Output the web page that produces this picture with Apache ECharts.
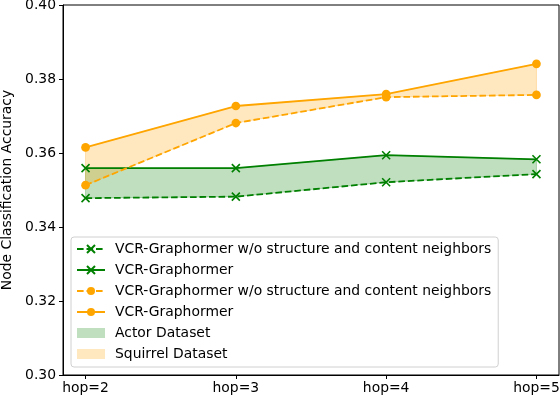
<!DOCTYPE html>
<html>
<head>
<meta charset="utf-8">
<script src="https://cdn.jsdelivr.net/npm/echarts@6/dist/echarts.min.js"></script>
<style>html,body{margin:0;padding:0;background:#fff}#c{width:560px;height:399px}</style>
</head>
<body>
<div id="c"></div>
<script>
const hops = [2, 3, 4, 5];
const tickLabels = ['hop=2', 'hop=3', 'hop=4', 'hop=5'];
const yTicks = [0.30, 0.32, 0.34, 0.36, 0.38, 0.40];
const actorWith = [0.3559, 0.3559, 0.3594, 0.3583];
const actorWithout = [0.3478, 0.3482, 0.3521, 0.3543];
const squirrelWith = [0.3615, 0.3727, 0.3759, 0.3841];
const squirrelWithout = [0.3513, 0.3681, 0.3751, 0.3757];

const NAME_WO = 'VCR-Graphormer w/o structure and content neighbors';
const NAME_W = 'VCR-Graphormer';
const GREEN = '#008000', ORANGE = '#FFA500';
const FONT = 'DejaVu Sans';
const FS = 13.9;
const pairs = arr => arr.map((v, i) => [hops[i], v]);
const XSYM = 'path://M0,0L10,10M10,0L0,10';
const DASH = [6.6, 2.9];

const chart = echarts.init(document.getElementById('c'), null, {renderer: 'canvas'});

// fill_between band drawn as one polygon through the axis scales
const band = (name, hi, lo, fill) => ({
  type: 'custom', name, z: 1, silent: true, animation: false,
  itemStyle: {color: fill},
  data: hops.map((h, i) => [h, lo[i], hi[i]]),
  encode: {x: 0, y: [1, 2]},
  renderItem: (params, api) => {
    if (params.dataIndex !== 0) return null;
    const top = hops.map((h, i) => api.coord([h, hi[i]]));
    const bot = hops.map((h, i) => api.coord([h, lo[i]])).reverse();
    return {
      type: 'polygon',
      shape: {points: top.concat(bot)},
      style: {fill: fill, stroke: fill, lineWidth: 1}
    };
  }
});
const line = (name, data, color, dashed, marker) => ({
  type: 'line', name, data, z: 3, animation: false,
  symbol: marker === 'x' ? XSYM : 'circle',
  symbolSize: marker === 'x' ? 8 : 8.7,
  lineStyle: {color, width: 1.8, type: dashed ? DASH : 'solid'},
  itemStyle: marker === 'x'
    ? {color: color, borderColor: color, borderWidth: 1.6}
    : {color: color, borderWidth: 0},
  emphasis: {disabled: true}
});

chart.setOption({
  animation: false,
  textStyle: {fontFamily: FONT},
  grid: {left: 63, right: 1, top: 5, bottom: 24, containLabel: false, outerBoundsMode: 'none',
    show: true, borderColor: '#000', borderWidth: 1, backgroundColor: 'transparent'},
  xAxis: {
    type: 'value', min: 1.85, max: 5.15,
    axisLine: {show: true, lineStyle: {color: '#000', width: 1}},
    axisTick: {show: true, length: 4, customValues: hops, lineStyle: {color: '#000'}},
    axisLabel: {customValues: hops, margin: 6, color: '#000', fontSize: FS, fontFamily: FONT,
      hideOverlap: false,
      formatter: v => tickLabels[hops.indexOf(Math.round(v))] || ''},
    splitLine: {show: false}
  },
  yAxis: {
    type: 'value', min: 0.30, max: 0.40, interval: 0.02,
    name: 'Node Classification Accuracy', nameLocation: 'middle', nameGap: 46,
    nameTextStyle: {color: '#000', fontSize: FS, fontFamily: FONT},
    axisLine: {show: true, lineStyle: {color: '#000', width: 1}},
    axisTick: {show: true, length: 4, lineStyle: {color: '#000'}},
    axisLabel: {margin: 7, color: '#000', fontSize: FS, fontFamily: FONT,
      formatter: v => yTicks.find(t => Math.abs(t - v) < 1e-9) !== undefined ? v.toFixed(2) : ''},
    splitLine: {show: false}
  },
  legend: {
    orient: 'vertical', left: 71, top: 237,
    padding: [5, 7, 6, 5], itemGap: 7, itemWidth: 28, itemHeight: 10,
    backgroundColor: 'rgba(255,255,255,0.8)', borderColor: '#d0d0d0', borderWidth: 1, borderRadius: 3,
    textStyle: {color: '#000', fontSize: FS, fontFamily: FONT, padding: [0, 0, 0, 5]},
    formatter: n => n.trim(),
    selectedMode: false,
    data: [
      {name: NAME_WO},
      {name: NAME_W},
      {name: NAME_WO + ' '},
      {name: NAME_W + ' '},
      {name: 'Actor Dataset', icon: 'rect'},
      {name: 'Squirrel Dataset', icon: 'rect'}
    ]
  },
  series: [
    band('Actor Dataset', actorWith, actorWithout, 'rgba(0,128,0,0.25)'),
    band('Squirrel Dataset', squirrelWith, squirrelWithout, 'rgba(255,165,0,0.25)'),
    line(NAME_WO, pairs(actorWithout), GREEN, true, 'x'),
    line(NAME_W, pairs(actorWith), GREEN, false, 'x'),
    line(NAME_WO + ' ', pairs(squirrelWithout), ORANGE, true, 'o'),
    line(NAME_W + ' ', pairs(squirrelWith), ORANGE, false, 'o')
  ]
});
</script>
</body>
</html>
